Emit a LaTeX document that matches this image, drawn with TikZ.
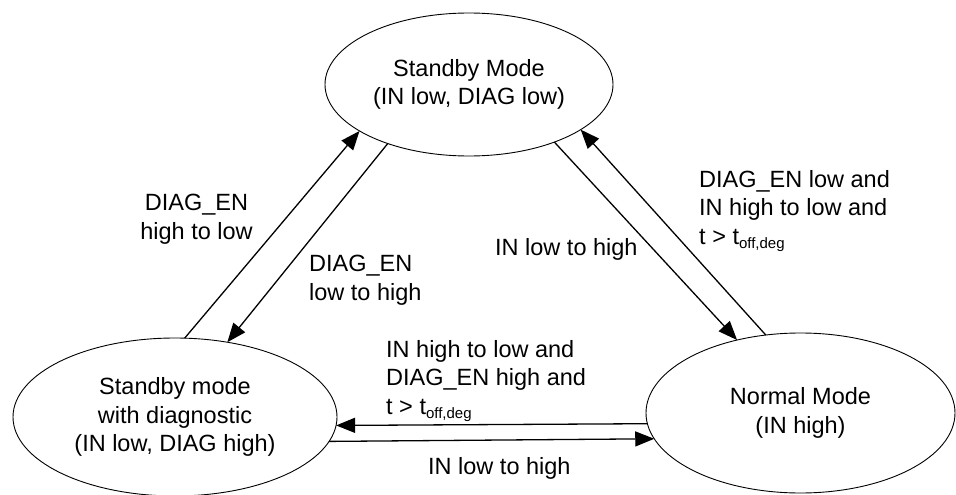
\documentclass[tikz,border=0pt]{standalone}
\usepackage{fontspec}
\setmainfont{Liberation Sans}
\usetikzlibrary{arrows.meta,shapes.geometric}
\newcommand\subtxt[1]{\raisebox{-4pt}{\fontsize{15}{15}\selectfont #1}}
\begin{document}
\begin{tikzpicture}[x=1pt,y=-1pt,
  every node/.style={font=\fontsize{23.5}{28.5}\selectfont, inner sep=0pt},
  state/.style={ellipse, draw, line width=0.9pt, align=center, outer sep=0pt},
  trans/.style={line width=1.3pt, -{Triangle[length=19pt,width=15pt]}},
  lbl/.style={align=left, anchor=north west}]
\useasboundingbox (0,0) rectangle (956,495);
\node[state, minimum width=288pt, minimum height=143pt] (T) at (469,84.5) {Standby Mode\\(IN low, DIAG low)};
\node[state, minimum width=324pt, minimum height=158pt] (L) at (175,417) {Standby mode\\with diagnostic\\(IN low, DIAG high)};
\node[state, minimum width=309pt, minimum height=160pt] (R) at (800.5,413) {Normal Mode\\(IN high)};
\draw[trans] (L.83.5) -- (T.203.2);
\draw[trans] (T.216.8) -- (L.55.3);
\draw[trans] (T.326.8) -- (R.131.4);
\draw[trans] (R.114.5) -- (T.338.6);
\draw[trans] (R.184.5) -- (L.357.16);
\draw[trans] (L.351.16) -- (R.190.95);
\node[align=center, anchor=north] (l1) at (196.5,194.2) {DIAG\textunderscore EN\\high to low};
\node[lbl] (l2) at (309,255.2) {DIAG\textunderscore EN\\low to high};
\node[anchor=base west] (l3) at (495,255) {IN low to high};
\node[lbl] (l4) at (699,170.2) {DIAG\textunderscore EN low and\\IN high to low and\\t > t\subtxt{off,deg}};
\node[lbl] (l5) at (386,340) {IN high to low and\\DIAG\textunderscore EN high and\\t > t\subtxt{off,deg}};
\node[anchor=base west] (l6) at (428,474) {IN low to high};
\end{tikzpicture}
\end{document}
